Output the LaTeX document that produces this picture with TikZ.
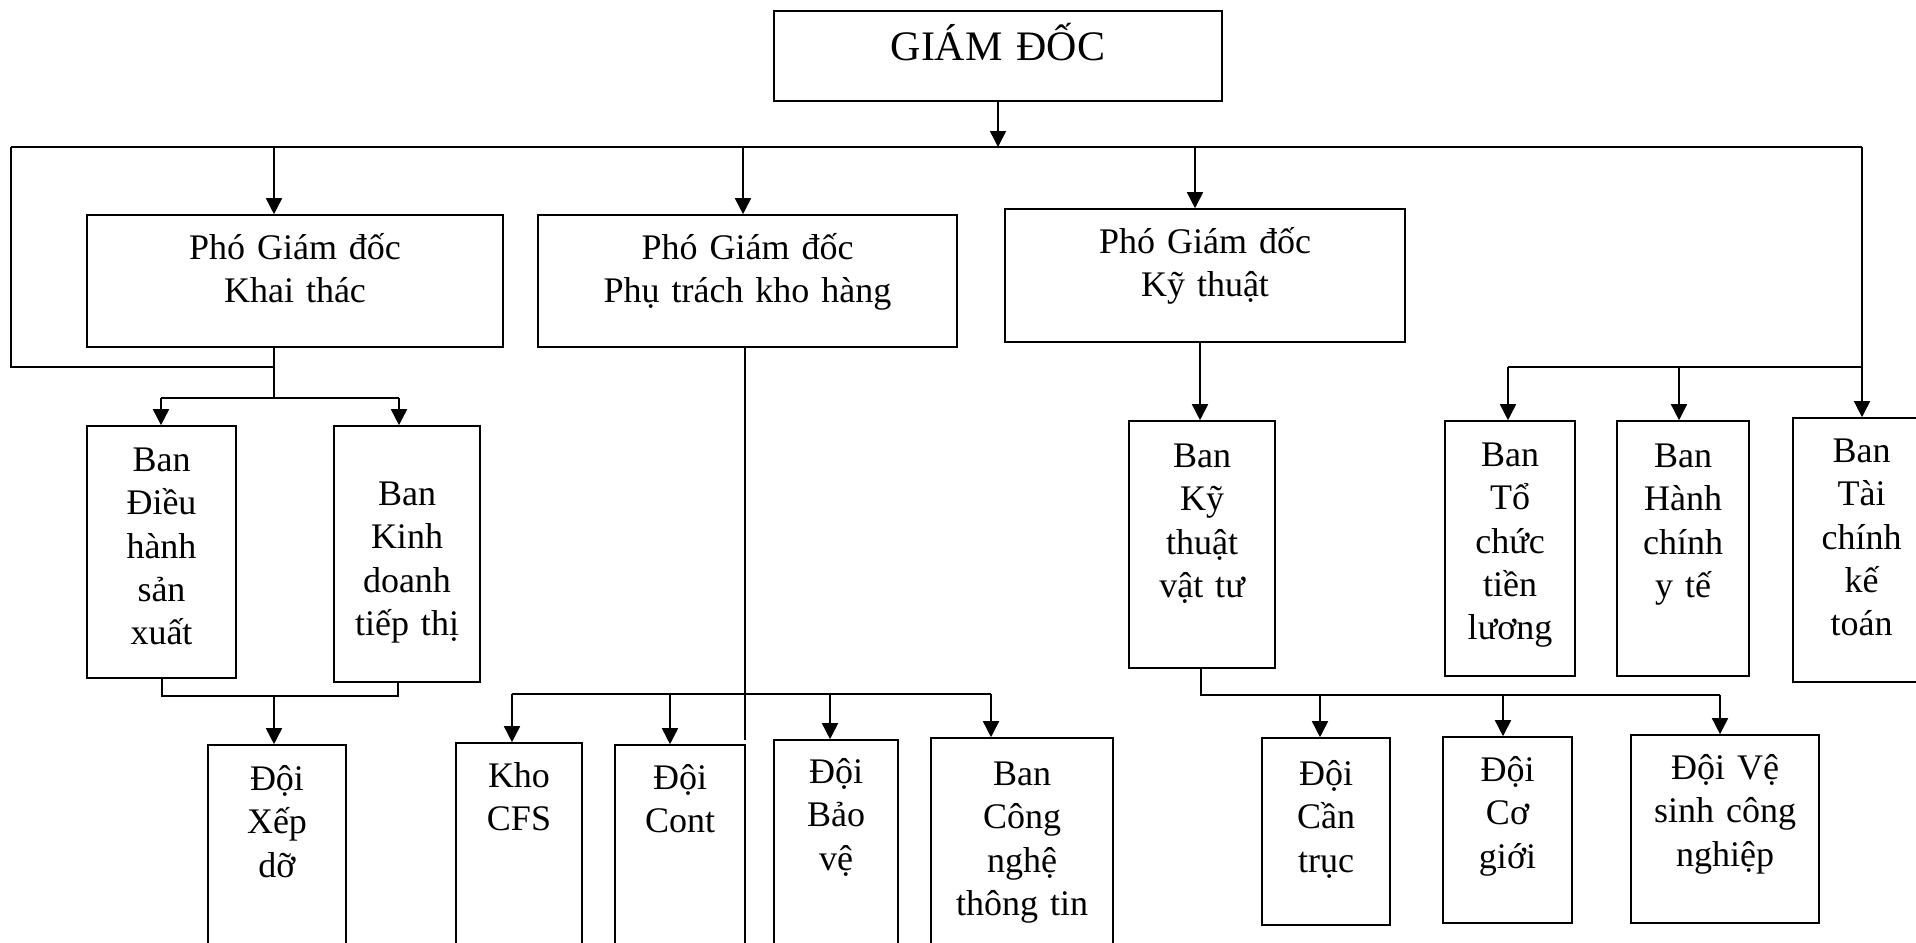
\documentclass[tikz,border=0pt]{standalone}
\usepackage{fontspec}
\setmainfont{Liberation Serif}
\usetikzlibrary{arrows.meta,fit}

\begin{document}
\begin{tikzpicture}[x=0.5pt,y=-0.5pt,line width=0.8pt,>={Triangle[width=8pt,length=8pt]},
  box/.style={draw,inner sep=0pt},
  txt/.style={anchor=north,align=center,text width=160pt,inner sep=0pt,text height=11.8pt,font=\fontsize{18}{21.6}\selectfont}]
  \clip (0,0) rectangle (1916,942);

  \node[box,fit={(774,11) (1222,101)}] (gd) {};
  \node[txt,text height=13.8pt,font=\fontsize{21}{25}\selectfont] (gdt) at ([yshift=-11pt]gd.north) {GIÁM ĐỐC};

  \node[box,fit={(87,215) (503,347)}] (pgd1) {};
  \node[txt] (pgd1t) at ([yshift=-10.5pt]pgd1.north) {Phó Giám đốc\\Khai thác};
  \node[box,fit={(538,215) (957,347)}] (pgd2) {};
  \node[txt] (pgd2t) at ([yshift=-10.5pt]pgd2.north) {Phó Giám đốc\\Phụ trách kho hàng};
  \node[box,fit={(1005,209) (1405,342)}] (pgd3) {};
  \node[txt] (pgd3t) at ([yshift=-10.5pt]pgd3.north) {Phó Giám đốc\\Kỹ thuật};

  \node[box,fit={(87,426) (236,678)}] (dh) {};
  \node[txt] (dht) at ([yshift=-11pt]dh.north) {Ban\\Điều\\hành\\sản\\xuất};
  \node[box,fit={(334,426) (480,682)}] (kd) {};
  \node[txt] (kdt) at ([yshift=-28pt]kd.north) {Ban\\Kinh\\doanh\\tiếp thị};
  \node[box,fit={(208,745) (346,960)}] (xd) {};
  \node[txt] (xdt) at ([yshift=-11pt]xd.north) {Đội\\Xếp\\dỡ};

  \node[box,fit={(456,743) (582,960)}] (cfs) {};
  \node[txt] (cfst) at ([yshift=-10.5pt]cfs.north) {Kho\\CFS};
  \node[box,fit={(615,745) (745,960)}] (cont) {};
  \node[txt] (contt) at ([yshift=-10.5pt]cont.north) {Đội\\Cont};
  \node[box,fit={(774,740) (898,960)}] (bv) {};
  \node[txt] (bvt) at ([yshift=-10pt]bv.north) {Đội\\Bảo\\vệ};
  \node[box,fit={(931,738) (1113,960)}] (cn) {};
  \node[txt] (cnt) at ([yshift=-12pt]cn.north) {Ban\\Công\\nghệ\\thông tin};

  \node[box,fit={(1129,421) (1275,668)}] (vt) {};
  \node[txt] (vtt) at ([yshift=-11.5pt]vt.north) {Ban\\Kỹ\\thuật\\vật tư};
  \node[box,fit={(1262,738) (1390,925)}] (ct) {};
  \node[txt] (ctt) at ([yshift=-12pt]ct.north) {Đội\\Cần\\trục};
  \node[box,fit={(1443,737) (1572,923)}] (cg) {};
  \node[txt] (cgt) at ([yshift=-10.5pt]cg.north) {Đội\\Cơ\\giới};
  \node[box,fit={(1631,735) (1819,923)}] (vs) {};
  \node[txt] (vst) at ([yshift=-10.5pt]vs.north) {Đội Vệ\\sinh công\\nghiệp};

  \node[box,fit={(1445,421) (1575,676)}] (tc) {};
  \node[txt] (tct) at ([yshift=-11pt]tc.north) {Ban\\Tổ\\chức\\tiền\\lương};
  \node[box,fit={(1617,421) (1749,676)}] (hc) {};
  \node[txt] (hct) at ([yshift=-11.5pt]hc.north) {Ban\\Hành\\chính\\y tế};
  \node[box,fit={(1793,418) (1930,682)}] (tck) {};
  \node[txt] (tckt) at ([yshift=-10.5pt]tck.north) {Ban\\Tài\\chính\\kế\\toán};

  \coordinate (busL) at (11,147);
  \coordinate (busR) at (1862,147);
  \draw[->] (gd.south) -- (gd.south |- busL);
  \draw (busL) -- (busR);
  \draw[->] (274,147) -- (274,147 |- pgd1.north);
  \draw[->] (743,147) -- (743,147 |- pgd2.north);
  \draw[->] (1195,147) -- (1195,147 |- pgd3.north);
  \draw[->] (busR) -- (busR |- tck.north);

  \draw (busL) -- (11,367) -- (274,367);
  \draw (274,0 |- pgd1.south) -- (274,398);
  \draw (161,398) -- (399,398);
  \draw[->] (161,398) -- (161,0 |- dh.north);
  \draw[->] (399,398) -- (399,0 |- kd.north);
  \draw (162,0 |- dh.south) -- (162,696) -- (398,696) -- (398,0 |- kd.south);
  \draw[->] (274,696) -- (274,0 |- xd.north);

  \draw (745,0 |- pgd2.south) -- (745,740);
  \draw (512,694) -- (991,694);
  \draw[->] (512,694) -- (512,0 |- cfs.north);
  \draw[->] (670,694) -- (670,0 |- cont.north);
  \draw[->] (830,694) -- (830,0 |- bv.north);
  \draw[->] (991,694) -- (991,0 |- cn.north);

  \draw[->] (1200,0 |- pgd3.south) -- (1200,0 |- vt.north);
  \draw (1201,0 |- vt.south) -- (1201,695) -- (1720,695);
  \draw[->] (1320,695) -- (1320,0 |- ct.north);
  \draw[->] (1503,695) -- (1503,0 |- cg.north);
  \draw[->] (1720,695) -- (1720,0 |- vs.north);

  \draw (1508,367) -- (1862,367);
  \draw[->] (1508,367) -- (1508,0 |- tc.north);
  \draw[->] (1679,367) -- (1679,0 |- hc.north);
\end{tikzpicture}
\end{document}
